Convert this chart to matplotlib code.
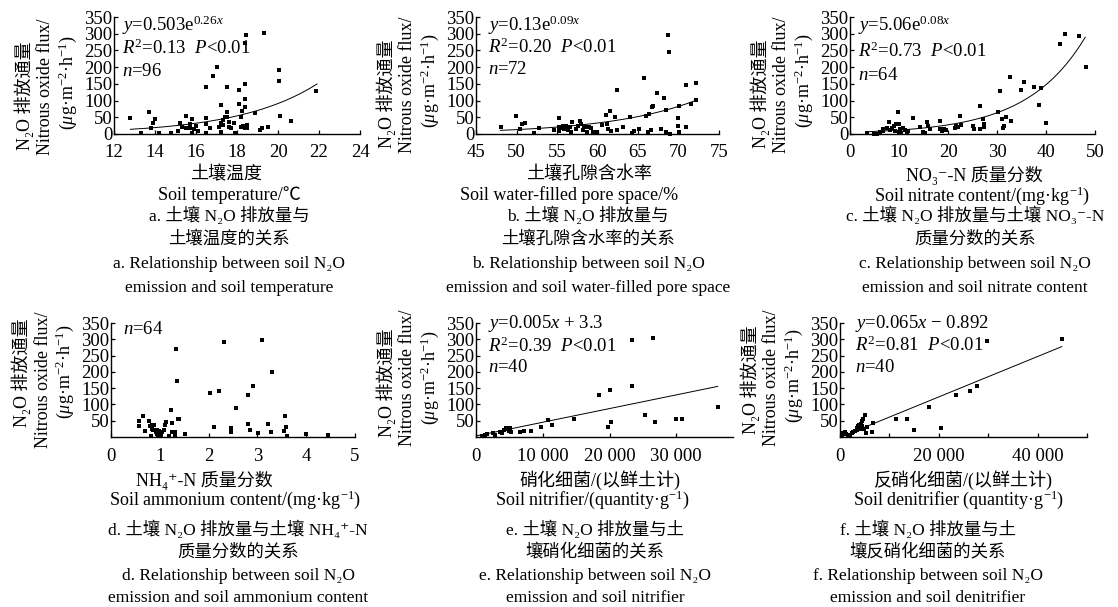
import matplotlib
matplotlib.use('Agg')
import matplotlib.pyplot as plt
import numpy as np

plt.rcParams['font.family'] = ['Liberation Serif', 'Noto Sans CJK SC', 'DejaVu Serif']
plt.rcParams['mathtext.fontset'] = 'custom'
plt.rcParams['mathtext.rm'] = 'Liberation Serif'
plt.rcParams['mathtext.it'] = 'Liberation Serif:italic'
plt.rcParams['mathtext.bf'] = 'Liberation Serif:bold'

# ---------------- data ----------------
temp = [12.8, 13.3, 13.7, 13.8, 13.9, 14.0, 14.2, 14.8, 15.1, 15.2,
        15.3, 15.5, 15.5, 15.7, 15.7, 15.8, 15.8, 15.9, 16.0, 16.1,
        16.5, 16.5, 16.5, 16.5, 16.7, 16.85, 17.0, 17.1, 17.2, 17.2,
        17.2, 17.3, 17.3, 17.4, 17.5, 17.5, 17.5, 17.6, 17.6, 17.7,
        17.85, 17.9, 18.1, 18.1, 18.2, 18.2, 18.4, 18.26, 18.3, 18.4,
        18.4, 18.4, 18.45, 18.4, 18.5, 18.5, 18.86, 19.1, 19.2, 19.3,
        19.5, 20.05, 20.05, 20.1, 20.65, 21.85]
flux_a = [48, 3, 65, 17, 34, 45, 3, 3, 10, 32,
          22, 55, 17, 30, 17, 44, 2, 14, 24, 10,
          47, 30, 140, 4, 17, 173, 200, 22, 32, 88,
          7, 27, 42, 52, 141, 65, 50, 37, 22, 17,
          32, 4, 133, 90, 52, 20, 272, 70, 25, 17,
          150, 106, 295, 81, 27, 17, 64, 12, 17, 302,
          20, 192, 158, 55, 40, 130]

wfps = [48.1, 49.9, 50.4, 50.7, 51.0, 52.2, 52.8, 54.6, 55.2, 55.2,
        55.3, 55.5, 55.7, 55.9, 56.1, 56.3, 56.6, 56.7, 56.9, 57.3,
        57.6, 57.8, 58.0, 58.2, 58.3, 58.5, 58.7, 58.8, 59.0, 59.2,
        59.5, 59.9, 60.6, 61.0, 61.2, 61.3, 61.5, 61.7, 62.2, 62.4,
        62.4, 63.1, 64.0, 64.2, 64.5, 65.1, 65.7, 66.0, 66.2, 66.3,
        66.6, 66.7, 66.8, 67.3, 67.8, 68.2, 68.4, 68.7, 68.8, 68.5,
        68.9, 69.9, 69.9, 70.0, 70.1, 70.9, 70.9, 71.5, 72.1, 72.2]
flux_b = [22, 55, 15, 30, 34, 2, 18, 13, 47, 20,
          8, 18, 25, 15, 25, 12, 22, 5, 35, 15,
          25, 38, 30, 13, 25, 22, 5, 22, 20, 18,
          5, 5, 28, 58, 30, 15, 70, 10, 52, 131,
          13, 20, 50, 2, 10, 15, 167, 55, 5, 60,
          12, 80, 84, 124, 15, 107, 5, 297, 244, 71,
          1, 48, 25, 5, 83, 147, 20, 89, 152, 101]

nitrate = [3.4, 4.8, 5.5, 6.1, 6.7, 6.8, 7.5, 7.9, 8.1, 8.5,
           8.9, 9.2, 9.4, 9.7, 9.9, 10.1, 10.2, 10.4, 10.8, 11.3,
           11.6, 11.9, 12.8, 14.3, 14.9, 15.4, 15.8, 16.0, 16.4, 18.3,
           18.4, 18.8, 19.1, 19.5, 21.4, 21.7, 22.0, 22.5, 22.7, 25.1,
           25.3, 26.5, 26.6, 27.2, 27.3, 27.4, 30.2, 30.7, 31.1, 31.3,
           31.5, 31.9, 32.6, 32.8, 34.8, 35.6, 37.5, 38.6, 39.0, 39.9,
           42.8, 43.8, 46.8, 48.1]
flux_c = [2, 1, 1, 5, 15, 8, 18, 35, 12, 18,
          25, 10, 30, 65, 5, 30, 15, 2, 18, 12,
          5, 10, 47, 20, 5, 2, 35, 25, 15, 38,
          15, 10, 15, 12, 18, 25, 20, 55, 28, 25,
          15, 83, 15, 45, 20, 30, 65, 129, 45, 17,
          25, 52, 171, 40, 133, 156, 141, 88, 139, 33,
          270, 300, 292, 199]

ammonium = [0.58, 0.58, 0.66, 0.69, 0.78, 0.79, 0.81, 0.83, 0.85, 0.87,
            0.89, 0.92, 0.94, 0.95, 0.97, 0.98, 1.0, 1.03, 1.05, 1.08,
            1.1, 1.13, 1.19, 1.22, 1.24, 1.25, 1.27, 1.31, 1.32, 1.34,
            1.36, 1.38, 1.40, 1.51, 2.02, 2.12, 2.21, 2.31, 2.46, 2.46,
            2.56, 2.8, 2.81, 2.85, 2.9, 3.02, 3.1, 3.21, 3.27, 3.3,
            3.54, 3.56, 3.58, 3.61, 4.0, 4.45]
flux_d = [48, 34, 64, 18, 48, 34, 4, 26, 38, 21,
          38, 16, 8, 21, 4, 18, 11, 4, 16, 21,
          36, 46, 4, 82, 16, 44, 16, 16, 6, 270,
          172, 54, 56, 8, 134, 31, 140, 293, 28, 14,
          90, 129, 39, 21, 157, 12, 299, 40, 14, 199,
          17, 64, 30, 4, 9, 6]

nitrifier = [850, 1350, 1600, 2600, 2850, 3600, 3850, 4250, 4500, 4850,
             4950, 5150, 5250, 6650, 7250, 8250, 9750, 10750, 11350, 14750,
             18500, 20000, 19700, 20200, 23350, 23350, 25350, 26500, 26850, 29950,
             30850, 36200]
flux_e = [3, 6, 8, 11, 5, 16, 11, 21, 29, 25,
          18, 28, 15, 15, 17, 18, 32, 51, 38, 54,
          130, 143, 30, 45, 157, 297, 69, 303, 45, 55,
          55, 91]

denitrifier = [340, 680, 1000, 1200, 1700, 2000, 2360, 2700, 3040, 3380,
               3500, 3700, 3900, 4050, 4200, 4400, 4500, 4730, 4860, 5000,
               5270, 5400, 6400, 6760, 11350, 13500, 15000, 18100, 20500, 23500,
               26350, 27700, 29700, 44900]
flux_f = [3, 13, 15, 8, 5, 3, 11, 15, 18, 23,
          28, 33, 38, 25, 41, 35, 48, 54, 25, 69,
          13, 30, 15, 43, 54, 56, 20, 92, 28, 129,
          142, 157, 294, 301]

# fitted curves (as drawn)
fit_a = (0.503, 0.26, 12.8, 21.9)
fit_b = (0.13, 0.0922, 48.0, 72.2)
fit_c = (5.06, 0.0843, 3.5, 48.0)
fit_e = (0.0042, 3.3, 0, 36200)
fit_f = (0.0062, -0.892, 0, 44900)

# ---------------- figure ----------------
W, H = 1118, 607
fig = plt.figure(figsize=(W / 100, H / 100), dpi=100)


def px_rect(x0, y0, x1, y1):
    return [x0 / W, 1 - y1 / H, (x1 - x0) / W, (y1 - y0) / H]


def ftext(x, y, s, size=13, rot=0, ha='center', va='center', **kw):
    fig.text(x / W, 1 - y / H, s, fontsize=size, rotation=rot, ha=ha, va=va, **kw)


def setup(rect, xlim, xticks, xticklabels, yticks, yticklabels, xpad):
    ax = fig.add_axes(px_rect(*rect))
    ax.set_xlim(*xlim)
    ax.set_ylim(0, 350)
    for s in ['top', 'right']:
        ax.spines[s].set_visible(False)
    for s in ['left', 'bottom']:
        ax.spines[s].set_linewidth(1.0)
    ax.set_xticks(xticks)
    ax.set_xticklabels(xticklabels)
    ax.set_yticks(yticks)
    ax.set_yticklabels(yticklabels)
    ax.tick_params(direction='in', length=3, width=0.9, labelsize=13.5)
    ax.tick_params(axis='y', pad=1)
    ax.tick_params(axis='x', pad=xpad)
    return ax


def scatter(ax, x, y):
    ax.scatter(x, y, marker='s', s=9, color='black', linewidths=0, clip_on=False, zorder=3)


def ylabels(axis_x, ycs):
    ftext(axis_x - 90, ycs[0], 'N₂O 排放通量', size=13, rot=90)
    ftext(axis_x - 68, ycs[1], 'Nitrous oxide flux/', size=13, rot=90)
    ftext(axis_x - 46, ycs[2], r'($\mu$g·m$^{-2}$·h$^{-1}$)', size=13, rot=90)


yt_full = [0, 50, 100, 150, 200, 250, 300, 350]
yt_nozero = [50, 100, 150, 200, 250, 300, 350]

# ---- a ----
ax = setup((114, 17, 360, 134), (12, 24), [12, 14, 16, 18, 20, 22, 24],
           ['12', '14', '16', '18', '20', '22', '24'], yt_full,
           [str(v) for v in yt_full], 7)
scatter(ax, temp, flux_a)
xx = np.linspace(fit_a[2], fit_a[3], 200)
ax.plot(xx, fit_a[0] * np.exp(fit_a[1] * xx), color='black', lw=0.7)
ftext(122, 25, r'$y$=0.503e$^{0.26x}$', size=13.5, ha='left')
ftext(122, 48, r'$R^2$=0.13  $P$<0.01', size=13.5, ha='left')
ftext(122, 72, r'$n$=96', size=13.5, ha='left')
ylabels(114, (96, 87, 83))

# ---- b ----
ax = setup((476, 17, 719, 134), (45, 75), [45, 50, 55, 60, 65, 70, 75],
           ['45', '50', '55', '60', '65', '70', '75'], yt_full,
           [str(v) for v in yt_full], 7)
scatter(ax, wfps, flux_b)
xx = np.linspace(fit_b[2], fit_b[3], 200)
ax.plot(xx, fit_b[0] * np.exp(fit_b[1] * xx), color='black', lw=0.7)
ftext(488, 25, r'$y$=0.13e$^{0.09x}$', size=13.5, ha='left')
ftext(488, 47, r'$R^2$=0.20  $P$<0.01', size=13.5, ha='left')
ftext(488, 70, r'$n$=72', size=13.5, ha='left')
ylabels(476, (94, 85, 81))

# ---- c ----
ax = setup((850, 17, 1095, 134), (0, 50), [0, 10, 20, 30, 40, 50],
           ['0', '10', '20', '30', '40', '50'], yt_full,
           [str(v) for v in yt_full], 7)
scatter(ax, nitrate, flux_c)
xx = np.linspace(fit_c[2], fit_c[3], 200)
ax.plot(xx, fit_c[0] * np.exp(fit_c[1] * xx), color='black', lw=0.7)
ftext(858, 25, r'$y$=5.06e$^{0.08x}$', size=13.5, ha='left')
ftext(858, 51, r'$R^2$=0.73  $P$<0.01', size=13.5, ha='left')
ftext(858, 75, r'$n$=64', size=13.5, ha='left')
ylabels(850, (94, 85, 81))

# ---- d ----
ax = setup((111, 323, 355, 437), (0, 5), [0, 1, 2, 3, 4, 5],
           ['0', '1', '2', '3', '4', '5'], yt_nozero,
           [str(v) for v in yt_nozero], 8)
scatter(ax, ammonium, flux_d)
ftext(123, 330, r'$n$=64', size=13.5, ha='left')
ylabels(111, (373, 380, 372))

# ---- e ----
ax = setup((476, 323, 733, 437), (0, 38500), [0, 10000, 20000, 30000],
           ['0', '10 000', '20 000', '30 000'], yt_nozero,
           [str(v) for v in yt_nozero], 8)
scatter(ax, nitrifier, flux_e)
xx = np.linspace(fit_e[2], fit_e[3], 50)
ax.plot(xx, fit_e[0] * xx + fit_e[1], color='black', lw=0.7)
ftext(488, 323, r'$y$=0.005$x$ + 3.3', size=13.5, ha='left')
ftext(488, 346, r'$R^2$=0.39  $P$<0.01', size=13.5, ha='left')
ftext(488, 368, r'$n$=40', size=13.5, ha='left')
ylabels(476, (383, 378, 378))

# ---- f ----
ax = setup((840, 323, 1087, 437), (0, 50000), [0, 10000, 20000, 30000, 40000, 50000],
           ['0', '', '20 000', '', '40 000', ''], yt_nozero,
           [str(v) for v in yt_nozero], 8)
scatter(ax, denitrifier, flux_f)
xx = np.linspace(fit_f[2], fit_f[3], 50)
ax.plot(xx, fit_f[0] * xx + fit_f[1], color='black', lw=0.7)
ftext(855, 323, r'$y$=0.065$x$ − 0.892', size=13.5, ha='left')
ftext(855, 345, r'$R^2$=0.81  $P$<0.01', size=13.5, ha='left')
ftext(855, 368, r'$n$=40', size=13.5, ha='left')
ylabels(840, (380, 378, 376))

# ---- axis titles ----
ftext(226, 175, '土壤温度')
ftext(229, 195, 'Soil temperature/℃')
ftext(589, 175, '土壤孔隙含水率')
ftext(569, 195, 'Soil water-filled pore space/%')
ftext(974, 175, 'NO₃⁻-N 质量分数')
ftext(982, 196, r'Soil nitrate content/(mg·kg$^{-1}$)')
ftext(204, 480, 'NH₄⁺-N 质量分数')
ftext(235, 500, r'Soil ammonium content/(mg·kg$^{-1}$)')
ftext(600, 480, '硝化细菌/(以鲜土计)')
ftext(592, 500, r'Soil nitrifier/(quantity·g$^{-1}$)')
ftext(963, 480, '反硝化细菌/(以鲜土计)')
ftext(959, 500, r'Soil denitrifier (quantity·g$^{-1}$)')

# ---- captions ----
cap_size = 12.5
row1 = [216, 239, 264, 288]
row2 = [530, 552, 576, 598]
caps = [
    (229, row1, ['a. 土壤 N₂O 排放量与', '土壤温度的关系',
                 'a. Relationship between soil N₂O', 'emission and soil temperature']),
    (588, row1, ['b. 土壤 N₂O 排放量与', '土壤孔隙含水率的关系',
                 'b. Relationship between soil N₂O', 'emission and soil water-filled pore space']),
    (975, row1, ['c. 土壤 N₂O 排放量与土壤 NO₃⁻-N', '质量分数的关系',
                 'c. Relationship between soil N₂O', 'emission and soil nitrate content']),
    (238, row2, ['d. 土壤 N₂O 排放量与土壤 NH₄⁺-N', '质量分数的关系',
                 'd. Relationship between soil N₂O', 'emission and soil ammonium content']),
    (595, row2, ['e. 土壤 N₂O 排放量与土', '壤硝化细菌的关系',
                 'e. Relationship between soil N₂O', 'emission and soil nitrifier']),
    (928, row2, ['f. 土壤 N₂O 排放量与土', '壤反硝化细菌的关系',
                 'f. Relationship between soil N₂O', 'emission and soil denitrifier']),
]
for cx, ys, lines in caps:
    for yy, s in zip(ys, lines):
        ftext(cx, yy, s, size=cap_size)

fig.savefig('out.png', dpi=100)
